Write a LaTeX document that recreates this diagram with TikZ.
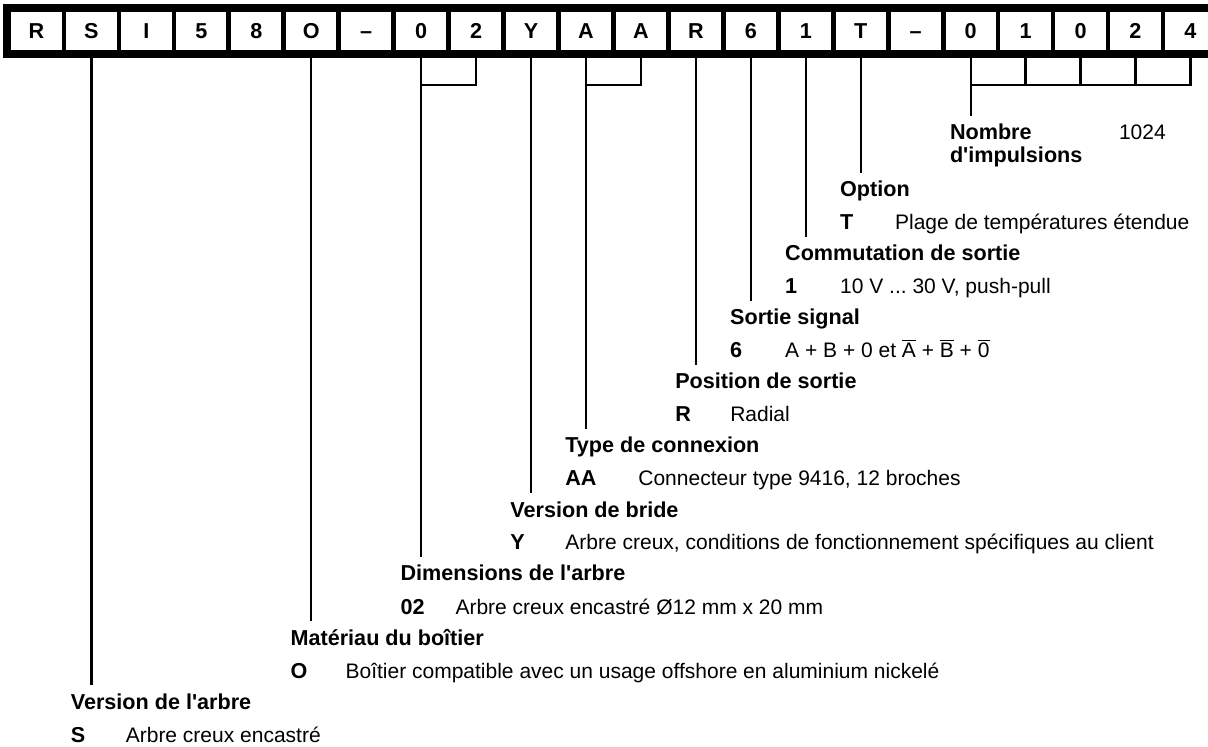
\documentclass[tikz,border=0pt]{standalone}
\usepackage{fontspec}
\setmainfont{Liberation Sans}
\frenchspacing
\usetikzlibrary{positioning}

\begin{document}
\begin{tikzpicture}[
  x=0.5pt, y=-0.5pt,
  font=\fontsize{10.5}{12.6}\selectfont,
  cell/.style={draw, line width=2.35pt, inner sep=0pt,
               minimum width=27.475pt, minimum height=21.35pt,
               text height=7.75pt, text depth=0pt,
               font=\fontsize{10.8}{13}\selectfont\bfseries},
  lead/.style={line width=1.1pt},
  head/.style={anchor=base west, inner sep=0pt, text height=12pt, xshift=-10.5pt,
               font=\fontsize{10.8}{13}\selectfont\bfseries},
  code/.style={anchor=base west, inner sep=0pt,
               font=\fontsize{10.8}{13}\selectfont\bfseries},
  desc/.style={anchor=base west, inner sep=0pt}
]
  \useasboundingbox (0,0) rectangle (1208,747);
  \foreach \ch [count=\i from 0] in {R,S,I,5,8,O,–,0,2,Y,A,A,R,6,1,T,–,0,1,0,2,4}
    \node[cell] (c\i) at ({9+54.95*(\i+0.5)},30.7) {\ch};
  \draw[line width=3.3pt] (c0.north west) rectangle (c21.south east);
  \coordinate (bar) at (0,85);

  \node[head] (nbr) at (c17 |- 0,140) {Nombre};
  \node[below=11.5pt of nbr.base west, code] (nbr2) {d\textquotesingle{}impulsions};
  \node[right=84.5pt of nbr.base west, desc] (nbrd) {1024};
  \draw[lead] (c21.south) |- (c17 |- bar);
  \foreach \j in {18,19,20} \draw[lead] (c\j.south) -- (c\j |- bar);
  \draw[lead] (c17.south) -- (c17 |- nbr.north);

  \node[head] (opt) at (c15 |- 0,197) {Option};
  \node[below=16.5pt of opt.base west, code] (optk) {T};
  \node[right=27.5pt of optk.base west, desc] (optd) {Plage de températures étendue};
  \draw[lead] (c15.south) -- (c15 |- opt.north);

  \node[head] (com) at (c14 |- 0,261) {Commutation de sortie};
  \node[below=16.5pt of com.base west, code] (comk) {1};
  \node[right=27.5pt of comk.base west, desc] (comd) {10 V ... 30 V, push-pull};
  \draw[lead] (c14.south) -- (c14 |- com.north);

  \node[head] (sig) at (c13 |- 0,325) {Sortie signal};
  \node[below=16.5pt of sig.base west, code] (sigk) {6};
  \node[right=27.5pt of sigk.base west, desc] (sigd)
    {A + B + 0 et $\overline{\mbox{A}}$ + $\overline{\mbox{B}}$ + $\overline{\mbox{0}}$};
  \draw[lead] (c13.south) -- (c13 |- sig.north);

  \node[head] (pos) at (c12 |- 0,389) {Position de sortie};
  \node[below=16.5pt of pos.base west, code] (posk) {R};
  \node[right=27.5pt of posk.base west, desc] (posd) {Radial};
  \draw[lead] (c12.south) -- (c12 |- pos.north);

  \node[head] (con) at (c10 |- 0,453) {Type de connexion};
  \node[below=16.5pt of con.base west, code] (conk) {AA};
  \node[right=36.5pt of conk.base west, desc] (cond) {Connecteur type 9416, 12 broches};
  \draw[lead] (c11.south) |- (c10 |- bar);
  \draw[lead] (c10.south) -- (c10 |- con.north);

  \node[head] (bri) at (c9 |- 0,517) {Version de bride};
  \node[below=16.5pt of bri.base west, code] (brik) {Y};
  \node[right=27.5pt of brik.base west, desc] (brid)
    {Arbre creux, conditions de fonctionnement spécifiques au client};
  \draw[lead] (c9.south) -- (c9 |- bri.north);

  \node[head] (dim) at (c7 |- 0,581) {Dimensions de l\textquotesingle{}arbre};
  \node[below=16.5pt of dim.base west, code] (dimk) {02};
  \node[right=27.5pt of dimk.base west, desc] (dimd) {Arbre creux encastré Ø12 mm x 20 mm};
  \draw[lead] (c8.south) |- (c7 |- bar);
  \draw[lead] (c7.south) -- (c7 |- dim.north);

  \node[head] (mat) at (c5 |- 0,645) {Matériau du boîtier};
  \node[below=16.5pt of mat.base west, code] (matk) {O};
  \node[right=27.5pt of matk.base west, desc] (matd)
    {Boîtier compatible avec un usage offshore en aluminium nickelé};
  \draw[lead] (c5.south) -- (c5 |- mat.north);

  \node[head] (arb) at (c1 |- 0,709) {Version de l\textquotesingle{}arbre};
  \node[below=16.5pt of arb.base west, code] (arbk) {S};
  \node[right=27.5pt of arbk.base west, desc] (arbd) {Arbre creux encastré};
  \draw[lead] (c1.south) -- (c1 |- arb.north);
\end{tikzpicture}
\end{document}
